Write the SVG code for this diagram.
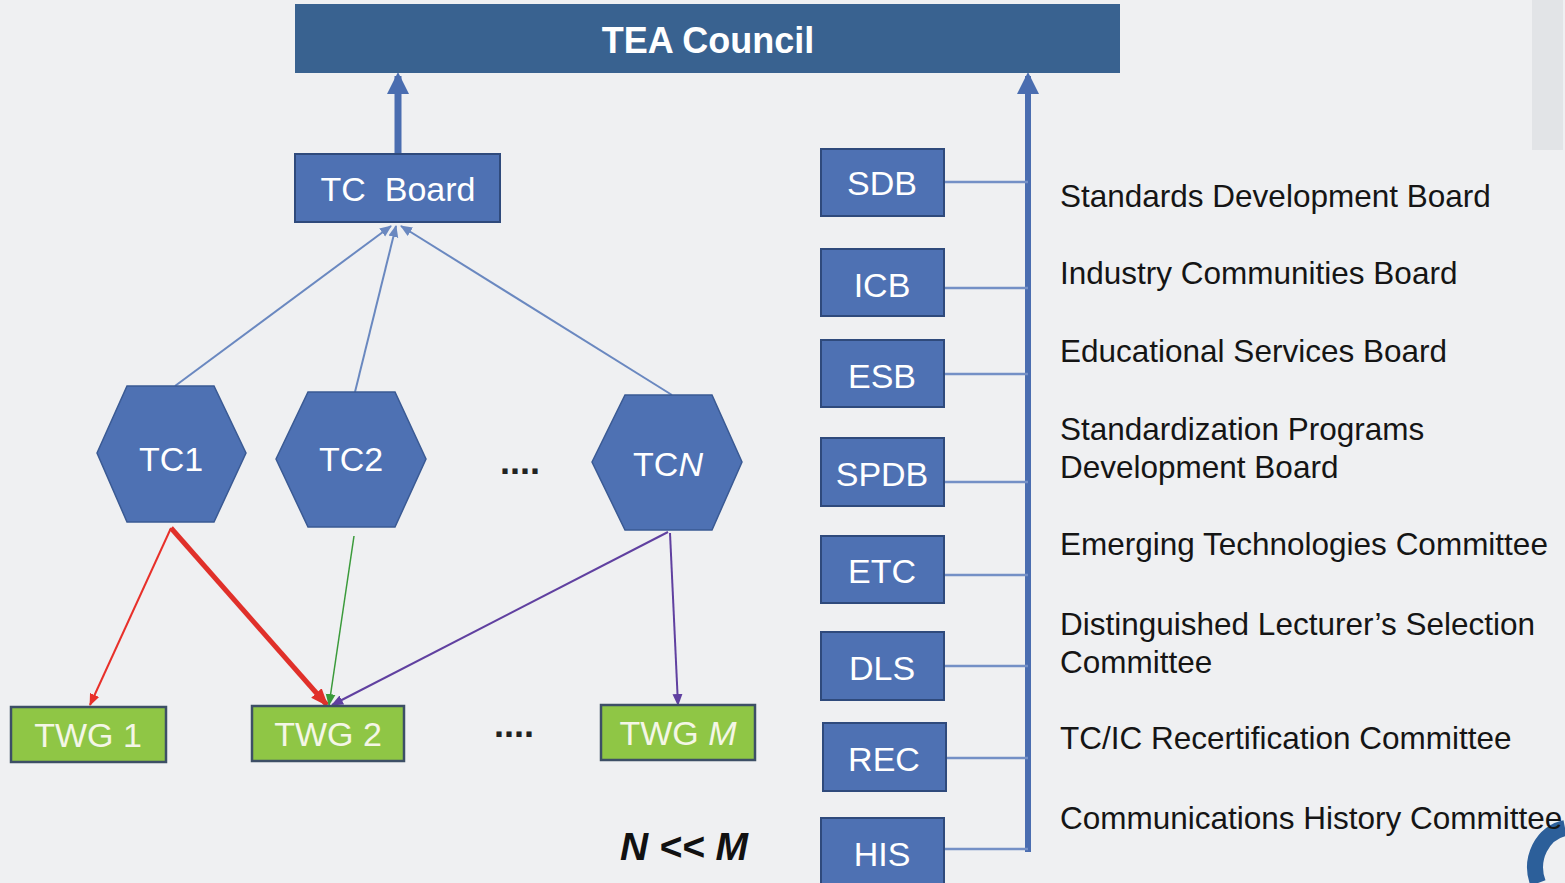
<svg xmlns="http://www.w3.org/2000/svg" width="1565" height="883" viewBox="0 0 1565 883">
<style>
.bg{fill:#eff0f2}
.box{fill:#4e71b3;stroke:#2f4a7c;stroke-width:2}
.hex{fill:#4e71b3;stroke:#3a5a94;stroke-width:1.5}
.twg{fill:#8fc645;stroke:#3d4f66;stroke-width:2.5}
.wt{font-family:"Liberation Sans",Arial,sans-serif;font-size:34px;fill:#ffffff;text-anchor:middle}
.gt{font-family:"Liberation Sans",Arial,sans-serif;font-size:34px;fill:#f4f6e6;text-anchor:middle}
.lbl{font-family:"Liberation Sans",Arial,sans-serif;font-size:31.5px;fill:#151515}
.dots{font-family:"Liberation Sans",Arial,sans-serif;font-size:36px;font-weight:bold;fill:#222;text-anchor:middle}
.thin{stroke:#6a88c0;stroke-width:2;fill:none}
.tie{stroke:#7490c6;stroke-width:2.5;fill:none}
</style>
<defs>
<marker id="mBig" markerUnits="userSpaceOnUse" markerWidth="22" markerHeight="22" refX="18" refY="11" orient="auto" viewBox="0 0 22 22">
<path d="M0,0 L22,11 L0,22 Z" fill="#4a6db0"/>
</marker>
<marker id="mBlue" markerUnits="userSpaceOnUse" markerWidth="12" markerHeight="12" refX="11" refY="5" orient="auto" viewBox="0 0 12 10">
<path d="M0,0 L12,5 L0,10 Z" fill="#6a88c0"/>
</marker>
<marker id="mRed" markerUnits="userSpaceOnUse" markerWidth="12" markerHeight="12" refX="11" refY="5" orient="auto" viewBox="0 0 12 10">
<path d="M0,0 L12,5 L0,10 Z" fill="#e8302a"/>
</marker>
<marker id="mRedBig" markerUnits="userSpaceOnUse" markerWidth="18" markerHeight="16" refX="16" refY="7" orient="auto" viewBox="0 0 18 14">
<path d="M0,0 L18,7 L0,14 Z" fill="#e0302a"/>
</marker>
<marker id="mGreen" markerUnits="userSpaceOnUse" markerWidth="12" markerHeight="12" refX="11" refY="5" orient="auto" viewBox="0 0 12 10">
<path d="M0,0 L12,5 L0,10 Z" fill="#3a9a3a"/>
</marker>
<marker id="mPurple" markerUnits="userSpaceOnUse" markerWidth="12" markerHeight="12" refX="11" refY="5" orient="auto" viewBox="0 0 12 10">
<path d="M0,0 L12,5 L0,10 Z" fill="#6040a0"/>
</marker>
</defs>
<rect class="bg" x="0" y="0" width="1565" height="883"/>
<path d="M1532,0 L1563,0 L1563,150 L1532,150 Z" fill="#e2e4e7"/>
<path d="M1565,828 A36,40 0 0 0 1538,883" fill="none" stroke="#2c5f9a" stroke-width="16"/>

<g id="connectors">
<line x1="398" y1="154" x2="398" y2="76" stroke="#4a6db0" stroke-width="7" marker-end="url(#mBig)"/>
<line x1="1028" y1="852" x2="1028" y2="76" stroke="#4a6db0" stroke-width="6" marker-end="url(#mBig)"/>
<line class="tie" x1="945" y1="182" x2="1028" y2="182"/>
<line class="tie" x1="945" y1="288" x2="1028" y2="288"/>
<line class="tie" x1="945" y1="374" x2="1028" y2="374"/>
<line class="tie" x1="945" y1="482" x2="1028" y2="482"/>
<line class="tie" x1="945" y1="575" x2="1028" y2="575"/>
<line class="tie" x1="945" y1="666" x2="1028" y2="666"/>
<line class="tie" x1="947" y1="758" x2="1028" y2="758"/>
<line class="tie" x1="945" y1="849" x2="1028" y2="849"/>
<line class="thin" x1="175" y1="386" x2="391" y2="226" marker-end="url(#mBlue)"/>
<line class="thin" x1="355" y1="392" x2="396" y2="226" marker-end="url(#mBlue)"/>
<line class="thin" x1="672" y1="395" x2="401" y2="226" marker-end="url(#mBlue)"/>
<line x1="171" y1="528" x2="90" y2="705" stroke="#e8302a" stroke-width="2" marker-end="url(#mRed)"/>
<line x1="171" y1="528" x2="327" y2="705" stroke="#e0302a" stroke-width="5" marker-end="url(#mRedBig)"/>
<line x1="354" y1="536" x2="329" y2="705" stroke="#3a9a3a" stroke-width="1.5" marker-end="url(#mGreen)"/>
<line x1="668" y1="532" x2="332" y2="705" stroke="#6040a0" stroke-width="2" marker-end="url(#mPurple)"/>
<line x1="670" y1="533" x2="678" y2="705" stroke="#6040a0" stroke-width="2" marker-end="url(#mPurple)"/>
</g>

<g id="tea-council">
<rect x="295" y="4" width="825" height="69" fill="#396290"/>
<text x="708" y="53" font-family="Liberation Sans, Arial, sans-serif" font-size="36" font-weight="bold" fill="#ffffff" text-anchor="middle">TEA Council</text>
</g>
<g id="tc-board">
<rect class="box" x="295" y="154" width="205" height="68"/>
<text class="wt" x="398" y="201" xml:space="preserve">TC  Board</text>
</g>

<g id="tc1"><polygon class="hex" points="97,453 127,386 214,386 246,453 214,522 127,522"/><text class="wt" x="171" y="471">TC1</text></g>
<g id="tc2"><polygon class="hex" points="276,459 308,392 395,392 426,459 395,527 308,527"/><text class="wt" x="351" y="471">TC2</text></g>
<g id="tc-dots"><text class="dots" x="520" y="474">....</text></g>
<g id="tcn"><polygon class="hex" points="592,462 625,395 712,395 742,462 712,530 625,530"/><text class="wt" x="668" y="476">TC<tspan font-style="italic">N</tspan></text></g>

<g id="twg1"><rect class="twg" x="11" y="707" width="155" height="55"/><text class="gt" x="88" y="747">TWG 1</text></g>
<g id="twg2"><rect class="twg" x="252" y="706" width="152" height="55"/><text class="gt" x="328" y="746">TWG 2</text></g>
<g id="twg-dots"><text class="dots" x="514" y="737">....</text></g>
<g id="twgm"><rect class="twg" x="601" y="705" width="154" height="55"/><text class="gt" x="678" y="745">TWG <tspan font-style="italic">M</tspan></text></g>

<g id="sdb"><rect class="box" x="821" y="149" width="123" height="67"/><text class="wt" x="882" y="195">SDB</text></g>
<g id="icb"><rect class="box" x="821" y="249" width="123" height="67"/><text class="wt" x="882" y="297">ICB</text></g>
<g id="esb"><rect class="box" x="821" y="340" width="123" height="67"/><text class="wt" x="882" y="388">ESB</text></g>
<g id="spdb"><rect class="box" x="821" y="438" width="123" height="68"/><text class="wt" x="882" y="486">SPDB</text></g>
<g id="etc"><rect class="box" x="821" y="536" width="123" height="67"/><text class="wt" x="882" y="583">ETC</text></g>
<g id="dls"><rect class="box" x="821" y="632" width="123" height="68"/><text class="wt" x="882" y="680">DLS</text></g>
<g id="rec"><rect class="box" x="823" y="723" width="123" height="68"/><text class="wt" x="884" y="771">REC</text></g>
<g id="his"><rect class="box" x="821" y="818" width="123" height="70"/><text class="wt" x="882" y="866">HIS</text></g>

<g id="labels">
<text class="lbl" x="1060" y="207">Standards Development Board</text>
<text class="lbl" x="1060" y="284">Industry Communities Board</text>
<text class="lbl" x="1060" y="362">Educational Services Board</text>
<text class="lbl" x="1060" y="440">Standardization Programs</text>
<text class="lbl" x="1060" y="478">Development Board</text>
<text class="lbl" x="1060" y="555">Emerging Technologies Committee</text>
<text class="lbl" x="1060" y="635">Distinguished Lecturer’s Selection</text>
<text class="lbl" x="1060" y="673">Committee</text>
<text class="lbl" x="1060" y="749">TC/IC Recertification Committee</text>
<text class="lbl" x="1060" y="829">Communications History Committee</text>
</g>
<g id="n-m"><text x="620" y="860" font-family="Liberation Sans, Arial, sans-serif" font-size="39" font-weight="bold" font-style="italic" fill="#111">N &lt;&lt; M</text></g>
</svg>
